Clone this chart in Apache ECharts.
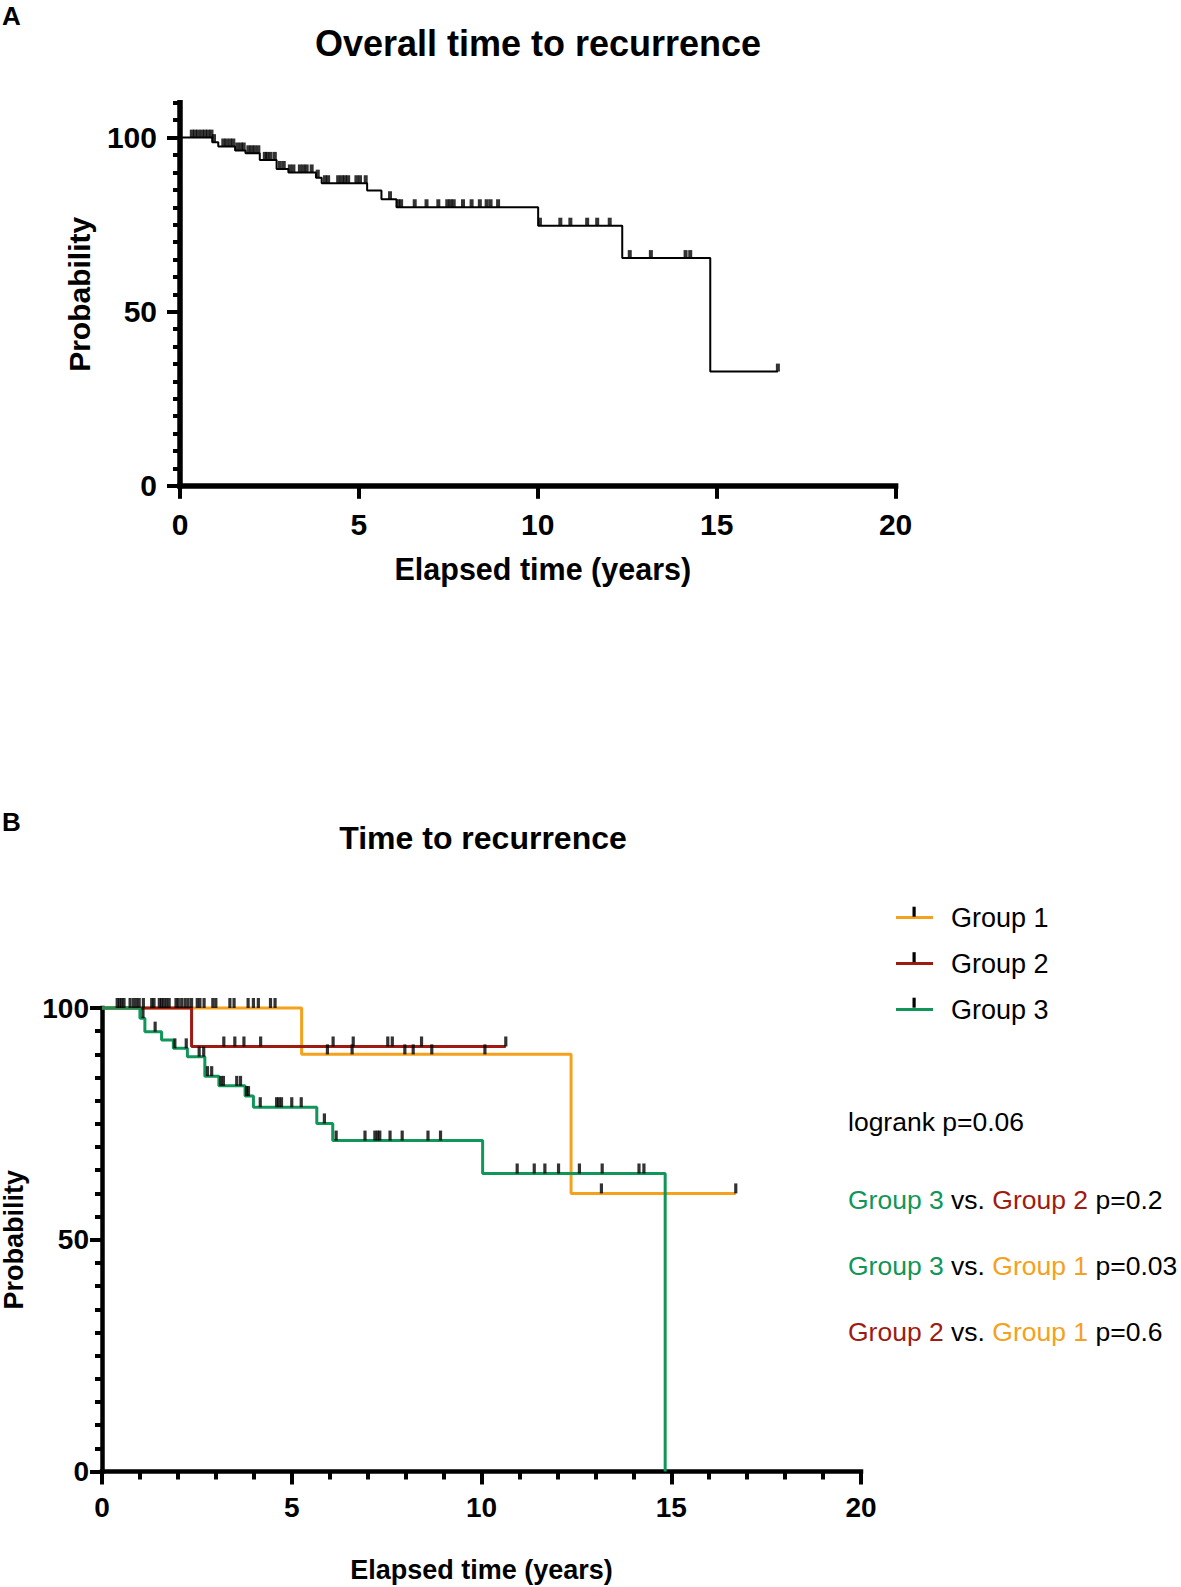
<!DOCTYPE html>
<html><head><meta charset="utf-8">
<script src="https://cdn.jsdelivr.net/npm/echarts@6/dist/echarts.min.js"></script>
<style>html,body{margin:0;padding:0;background:#fff}#c{width:1181px;height:1587px}</style>
</head><body><div id="c"></div>
<script>
// ---------- DATA ----------
const xTickLabels = [0, 5, 10, 15, 20];
const yTickLabels = [0, 50, 100];

// Panel A: overall Kaplan-Meier curve [time (years), probability %]
const overallSteps = [[0,100],[0.9,98.7],[1.07,97.45],[1.54,96.3],[1.83,95.5],[2.23,93.6],[2.70,91.0],[3.03,90.0],[3.80,88.5],[3.96,86.9],[5.23,84.8],[5.63,82.3],[6.05,80.0],[10.01,74.7],[12.36,65.4],[14.82,32.8],[16.71,32.8]];
const overallCensorTimes = [0.33,0.42,0.51,0.61,0.70,0.79,0.88,0.95,1.21,1.30,1.40,1.49,1.60,1.70,1.78,1.91,2.00,2.09,2.19,2.37,2.44,2.53,2.65,2.79,2.90,3.07,3.17,3.35,3.45,3.54,3.68,3.85,4.05,4.14,4.42,4.52,4.61,4.70,4.93,5.03,5.19,5.87,6.10,6.18,6.56,6.89,7.22,7.47,7.56,7.65,7.91,8.15,8.38,8.57,8.68,8.89,10.06,10.63,10.91,11.38,11.66,12.01,12.57,13.16,14.13,14.26,16.71];

// Panel B: groups
const groupNames = ['Group 1', 'Group 2', 'Group 3'];
const group1Steps = [[0,100],[5.26,90.0],[12.36,60.0],[16.70,60.0]];
const group1CensorTimes = [0.40,0.52,0.58,0.83,0.91,1.09,1.31,1.51,1.57,1.70,1.77,2.01,2.10,2.27,2.36,2.51,2.58,2.69,2.92,3.00,3.37,3.48,3.85,3.99,4.12,4.44,4.56,5.94,6.59,7.98,8.20,8.69,10.09,13.16,16.70];
const group2Steps = [[0,100],[2.36,91.7],[10.64,91.7]];
const group2CensorTimes = [0.46,0.74,0.98,1.37,1.63,1.95,2.19,3.21,3.50,3.74,4.18,6.09,6.62,7.53,7.65,8.42,10.64];
const group3Steps = [[0,100],[1.00,97.8],[1.13,94.9],[1.57,93.1],[1.88,91.3],[2.25,89.5],[2.71,85.3],[3.08,83.2],[3.77,81.0],[3.99,78.6],[5.66,75.1],[6.08,71.4],[10.03,64.3],[14.84,0]];
const group3CensorTimes = [1.08,1.40,1.92,2.22,2.56,2.68,2.78,2.89,3.13,3.20,3.55,3.65,3.81,3.86,4.17,4.60,4.66,4.73,5.00,5.25,5.86,6.17,6.93,7.19,7.26,7.32,7.59,7.91,8.59,8.92,10.94,11.39,11.67,12.03,12.58,13.18,14.15,14.28];

const logrankText = 'logrank p=0.06';
const comparisons = [
  {a: 'Group 3', b: 'Group 2', p: 'p=0.2'},
  {a: 'Group 3', b: 'Group 1', p: 'p=0.03'},
  {a: 'Group 2', b: 'Group 1', p: 'p=0.6'}
];

// ---------- STYLE ----------
const FONT = "'Liberation Sans', Arial, Helvetica, sans-serif";
const COLORS = {'Group 1': '#F5A11C', 'Group 2': '#9E1B12', 'Group 3': '#0F9658'};
const KEY = {'Group 1': 'o', 'Group 2': 'r', 'Group 3': 'g'};

function levelAt(steps, t) {
  let v = steps[0][1];
  for (const [x, y] of steps) { if (x <= t + 1e-9) v = y; else break; }
  return v;
}
function censorPoints(steps, times) { return times.map(t => [t, levelAt(steps, t)]); }

const chart = echarts.init(document.getElementById('c'), null, {renderer: 'svg', width: 1181, height: 1587});

const blackLine = (w) => ({lineStyle: {color: '#000', width: w, cap: 'square'}});
const boldLabel = (size, margin) => ({color: '#000', fontSize: size, fontWeight: 'bold', fontFamily: FONT, margin: margin});

function stepSeries(name, data, color, width, xi, yi) {
  return {name: name, type: 'line', step: 'end', data: data, xAxisIndex: xi, yAxisIndex: yi,
    symbol: 'none', clip: false, silent: true, color: color,
    lineStyle: {color: color, width: width}, itemStyle: {color: color}, z: 3};
}
function censorSeries(name, data, xi, yi, size) {
  return {name: name, type: 'scatter', data: data, xAxisIndex: xi, yAxisIndex: yi,
    symbol: 'rect', symbolSize: size, symbolOffset: [0, '-50%'], clip: false, silent: true,
    itemStyle: {color: '#000'}, z: 5};
}

const legendRowsY = [916.7, 962.2, 1007.7];
const ANN = 26.5;

const option = {
  animation: false,
  backgroundColor: '#fff',
  grid: [
    {left: 180, top: 102.8, width: 715.6, height: 383, outerBoundsMode: 'none', containLabel: false},
    {left: 102, top: 1008, width: 759, height: 463.5, outerBoundsMode: 'none', containLabel: false}
  ],
  xAxis: [
    {gridIndex: 0, type: 'value', min: 0, max: 20, interval: 5, position: 'bottom',
     axisLine: blackLine(5.5), axisTick: {length: 13, lineStyle: {color: '#000', width: 4}},
     axisLabel: Object.assign(boldLabel(30, 24), {formatter: v => xTickLabels.includes(v) ? String(v) : ''}),
     splitLine: {show: false},
     name: 'Elapsed time (years)', nameLocation: 'middle', nameGap: 68, nameMoveOverlap: false,
     nameTextStyle: {color: '#000', fontSize: 30.5, fontWeight: 'bold', fontFamily: FONT, padding: [0, 0, 0, 10]}},
    {gridIndex: 1, type: 'value', min: 0, max: 20, interval: 5, position: 'bottom',
     axisLine: blackLine(4.5), axisTick: {length: 13, lineStyle: {color: '#000', width: 4}},
     minorTick: {show: true, splitNumber: 5, length: 8, lineStyle: {color: '#000', width: 4}},
     axisLabel: Object.assign(boldLabel(28, 22), {formatter: v => xTickLabels.includes(v) ? String(v) : ''}),
     splitLine: {show: false}, minorSplitLine: {show: false},
     name: 'Elapsed time (years)', nameLocation: 'middle', nameGap: 85, nameMoveOverlap: false,
     nameTextStyle: {color: '#000', fontSize: 27, fontWeight: 'bold', fontFamily: FONT}}
  ],
  yAxis: [
    {gridIndex: 0, type: 'value', min: 0, max: 110, interval: 5, position: 'left', offset: 0,
     axisLine: blackLine(5.5), axisTick: {length: 7, lineStyle: {color: '#000', width: 4}},
     axisLabel: {show: false}, splitLine: {show: false}},
    {gridIndex: 0, type: 'value', min: 0, max: 110, interval: 5, position: 'left', offset: 0,
     axisLine: {show: false},
     axisTick: {customValues: yTickLabels, length: 13, lineStyle: {color: '#000', width: 4}},
     axisLabel: Object.assign(boldLabel(30, 23), {customValues: yTickLabels}),
     splitLine: {show: false},
     name: 'Probability', nameLocation: 'middle', nameGap: 86, nameRotate: 90, nameMoveOverlap: false,
     nameTextStyle: {color: '#000', fontSize: 30, fontWeight: 'bold', fontFamily: FONT}},
    {gridIndex: 1, type: 'value', min: 0, max: 100, interval: 50, position: 'left',
     axisLine: blackLine(4.5), axisTick: {length: 12, lineStyle: {color: '#000', width: 4}},
     minorTick: {show: true, splitNumber: 10, length: 7, lineStyle: {color: '#000', width: 4}},
     axisLabel: Object.assign(boldLabel(28, 13), {formatter: v => yTickLabels.includes(v) ? String(v) : ''}),
     splitLine: {show: false}, minorSplitLine: {show: false},
     name: 'Probability', nameLocation: 'middle', nameGap: 75, nameRotate: 90, nameMoveOverlap: false,
     nameTextStyle: {color: '#000', fontSize: 27, fontWeight: 'bold', fontFamily: FONT}}
  ],
  legend: {
    data: groupNames, orient: 'vertical', left: 891, top: 899,
    icon: 'path://M0,0H37V3H0Z', itemWidth: 37, itemHeight: 3, itemGap: 19,
    selectedMode: false,
    textStyle: {color: '#000', fontSize: 27, fontFamily: FONT, padding: [0, 0, 0, 13]}
  },
  series: [
    stepSeries('Overall', overallSteps, '#000', 2, 0, 0),
    censorSeries('Overall censored', censorPoints(overallSteps, overallCensorTimes), 0, 0, [4, 8]),
    stepSeries(groupNames[0], group1Steps, COLORS['Group 1'], 3, 1, 2),
    stepSeries(groupNames[1], group2Steps, COLORS['Group 2'], 3, 1, 2),
    stepSeries(groupNames[2], group3Steps, COLORS['Group 3'], 3, 1, 2),
    censorSeries('Group 1 censored', censorPoints(group1Steps, group1CensorTimes), 1, 2, [3.2, 10]),
    censorSeries('Group 2 censored', censorPoints(group2Steps, group2CensorTimes), 1, 2, [3.2, 10]),
    censorSeries('Group 3 censored', censorPoints(group3Steps, group3CensorTimes), 1, 2, [3.2, 10])
  ],
  graphic: []
};

const g = option.graphic;
g.push({type: 'text', x: 2, y: 16, style: {text: 'A', font: `bold 26px ${FONT}`, fill: '#000', verticalAlign: 'middle'}});
g.push({type: 'text', x: 2, y: 822, style: {text: 'B', font: `bold 26px ${FONT}`, fill: '#000', verticalAlign: 'middle'}});
g.push({type: 'text', x: 538, y: 43, style: {text: 'Overall time to recurrence', font: `bold 36px ${FONT}`, fill: '#000', align: 'center', verticalAlign: 'middle'}});
g.push({type: 'text', x: 483, y: 838, style: {text: 'Time to recurrence', font: `bold 32px ${FONT}`, fill: '#000', align: 'center', verticalAlign: 'middle'}});
legendRowsY.forEach(y => g.push({type: 'rect', shape: {x: 912.5, y: y - 10, width: 3.2, height: 10}, style: {fill: '#000'}, z: 100}));
g.push({type: 'text', x: 848, y: 1122, style: {text: logrankText, font: `${ANN}px ${FONT}`, fill: '#000', verticalAlign: 'middle'}});
const rich = {};
groupNames.forEach(n => { rich[KEY[n]] = {fill: COLORS[n], fontSize: ANN, fontFamily: FONT}; });
rich.k = {fill: '#000', fontSize: ANN, fontFamily: FONT};
comparisons.forEach((c, i) => {
  g.push({type: 'text', x: 848, y: 1200 + i * 66, style: {
    text: `{${KEY[c.a]}|${c.a}}{k| vs. }{${KEY[c.b]}|${c.b}}{k| ${c.p}}`,
    rich: rich, font: `${ANN}px ${FONT}`, fill: '#000', verticalAlign: 'middle'}});
});

chart.setOption(option);
</script></body></html>
